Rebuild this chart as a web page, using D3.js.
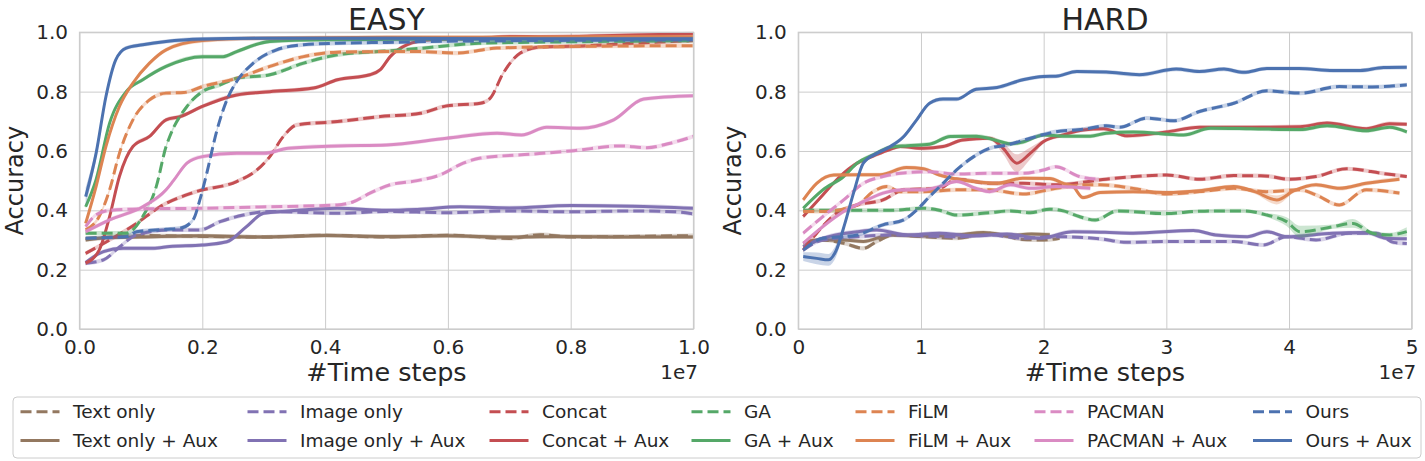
<!DOCTYPE html>
<html>
<head>
<meta charset="utf-8">
<script src="https://cdn.jsdelivr.net/npm/d3@7"></script>
<style>
  body { margin: 0; background: #fff; }
  text { font-family: "DejaVu Sans", sans-serif; fill: #262626; }
</style>
</head>
<body>
<div id="chart"></div>
<script>
// x in units of 1e7 time steps, y = accuracy; optional 3rd value = band half-width
const easyText = [[0.01,0.305],[0.05,0.31],[0.1,0.315],[0.2,0.312],[0.3,0.31],[0.4,0.316],[0.5,0.31],[0.6,0.316],[0.7,0.305],[0.75,0.318],[0.8,0.31],[0.9,0.312],[1.0,0.315]];
const easyTextAux = [[0.01,0.30],[0.05,0.308],[0.1,0.31],[0.2,0.314],[0.3,0.31],[0.4,0.315],[0.5,0.312],[0.6,0.314],[0.7,0.31],[0.8,0.312],[0.9,0.31],[1.0,0.31]];
const easyImage = [[0.01,0.222],[0.039,0.233],[0.066,0.278],[0.093,0.317],[0.147,0.334],[0.196,0.334],[0.229,0.362],[0.267,0.384],[0.31,0.396],[0.42,0.39],[0.5,0.396],[0.6,0.392],[0.7,0.398],[0.8,0.395],[0.9,0.398],[0.97,0.395],[1.0,0.388]];
const easyImageAux = [[0.01,0.224],[0.039,0.261],[0.071,0.272],[0.12,0.272],[0.147,0.278],[0.2,0.283],[0.24,0.294],[0.272,0.345],[0.3,0.39],[0.35,0.399],[0.42,0.407],[0.5,0.40],[0.55,0.403],[0.62,0.412],[0.7,0.408],[0.8,0.416],[0.9,0.414],[1.0,0.407]];
const easyConcat = [[0.01,0.255],[0.049,0.30],[0.093,0.356],[0.131,0.412],[0.19,0.463],[0.256,0.497],[0.289,0.536],[0.31,0.581],[0.332,0.649],[0.354,0.688],[0.42,0.699],[0.49,0.716],[0.555,0.727],[0.598,0.752],[0.653,0.761],[0.669,0.778],[0.69,0.862],[0.718,0.93],[0.75,0.95],[0.82,0.954],[0.9,0.963],[1.0,0.972]];
const easyConcatAux = [[0.01,0.222],[0.032,0.266],[0.049,0.379],[0.065,0.514],[0.087,0.615],[0.114,0.649],[0.141,0.705],[0.164,0.716],[0.2,0.75],[0.256,0.789],[0.31,0.8],[0.381,0.812],[0.42,0.84],[0.473,0.857],[0.49,0.874],[0.506,0.918],[0.533,0.958],[0.571,0.975],[0.65,0.98],[0.707,0.986],[0.75,0.985],[0.85,0.988],[1.0,0.995]];
const easyGA = [[0.01,0.323],[0.076,0.323],[0.103,0.379],[0.125,0.48],[0.141,0.615],[0.147,0.649],[0.175,0.75],[0.2,0.8],[0.229,0.823],[0.256,0.845],[0.31,0.857],[0.365,0.896],[0.42,0.924],[0.5,0.937],[0.55,0.945],[0.65,0.963],[0.8,0.968],[1.0,0.972]];
const easyGAAux = [[0.01,0.412],[0.027,0.503],[0.049,0.694],[0.076,0.8],[0.103,0.84],[0.141,0.885],[0.2,0.918],[0.234,0.918],[0.256,0.935],[0.31,0.969],[0.4,0.975],[0.6,0.977],[0.8,0.978],[1.0,0.978]];
const easyFiLM = [[0.01,0.334],[0.032,0.379],[0.049,0.469],[0.065,0.592],[0.087,0.705],[0.114,0.772],[0.141,0.795],[0.17,0.797],[0.2,0.817],[0.256,0.845],[0.31,0.885],[0.365,0.918],[0.42,0.933],[0.5,0.935],[0.55,0.935],[0.615,0.93],[0.68,0.947],[0.8,0.952],[1.0,0.955]];
const easyFiLMAux = [[0.01,0.356],[0.027,0.48],[0.043,0.615],[0.065,0.75],[0.087,0.829],[0.114,0.896],[0.141,0.941],[0.2,0.972],[0.3,0.98],[0.5,0.983],[0.7,0.983],[0.85,0.985],[1.0,0.985]];
const easyPacman = [[0.01,0.345],[0.027,0.385],[0.05,0.40],[0.1,0.405],[0.2,0.407],[0.31,0.412],[0.42,0.418],[0.446,0.429],[0.473,0.458],[0.506,0.486],[0.55,0.50],[0.587,0.519],[0.625,0.559],[0.653,0.576],[0.734,0.589],[0.805,0.601],[0.881,0.617],[0.924,0.611],[0.96,0.625],[1.0,0.649]];
const easyPacmanAux = [[0.01,0.328],[0.049,0.368],[0.103,0.412],[0.141,0.469],[0.153,0.50],[0.175,0.559],[0.2,0.581],[0.256,0.592],[0.3,0.592],[0.34,0.609],[0.42,0.617],[0.5,0.62],[0.598,0.643],[0.68,0.66],[0.72,0.654],[0.761,0.68],[0.815,0.677],[0.87,0.705],[0.919,0.775],[1.0,0.786]];
const easyOurs = [[0.01,0.306],[0.076,0.311],[0.093,0.328],[0.141,0.336],[0.164,0.34],[0.185,0.368],[0.196,0.435],[0.206,0.514],[0.224,0.671],[0.24,0.772],[0.256,0.834],[0.283,0.896],[0.321,0.941],[0.365,0.958],[0.42,0.963],[0.5,0.966],[0.6,0.97],[0.8,0.973],[1.0,0.975]];
const easyOursAux = [[0.01,0.446,0.03],[0.027,0.592,0.02],[0.043,0.783],[0.059,0.907],[0.076,0.947],[0.103,0.958],[0.141,0.969],[0.2,0.977],[0.3,0.98],[0.5,0.98],[0.7,0.978],[0.9,0.978],[1.0,0.978]];

const hardText = [[0.04,0.277],[0.2,0.30],[0.37,0.289],[0.53,0.272],[0.64,0.295],[0.78,0.317],[1.02,0.311],[1.29,0.306],[1.56,0.323],[1.83,0.302],[2.0,0.30],[2.13,0.306]];
const hardTextAux = [[0.04,0.289],[0.15,0.30],[0.37,0.30],[0.53,0.295],[0.75,0.317],[1.02,0.314],[1.29,0.317],[1.51,0.325],[1.70,0.314],[1.9,0.32],[2.05,0.318]];
const hardImage = [[0.04,0.266],[0.2,0.30],[0.48,0.311],[0.75,0.317],[1.02,0.314],[1.29,0.311],[1.56,0.317],[1.83,0.306],[2.1,0.311],[2.46,0.304],[2.68,0.292],[3.0,0.295],[3.55,0.295],[3.79,0.283],[3.98,0.311],[4.22,0.30],[4.49,0.323],[4.71,0.323],[4.85,0.292],[4.96,0.288]];
const hardImageAux = [[0.04,0.277],[0.2,0.306],[0.48,0.328],[0.64,0.334],[0.89,0.317],[1.15,0.323],[1.42,0.314],[1.70,0.32],[1.97,0.306],[2.24,0.328],[2.5,0.326],[2.73,0.323],[3.22,0.332],[3.4,0.317],[3.66,0.311],[3.82,0.328],[3.98,0.311],[4.36,0.323],[4.63,0.325],[4.79,0.306],[4.96,0.304]];
const hardConcat = [[0.04,0.266],[0.15,0.323],[0.31,0.39],[0.48,0.418],[0.69,0.435],[0.86,0.469],[1.15,0.474],[1.29,0.505],[1.56,0.491],[1.83,0.491],[2.1,0.486],[2.51,0.505],[3.0,0.519],[3.27,0.505],[3.55,0.517],[3.8,0.516],[4.0,0.505],[4.22,0.514],[4.47,0.54],[4.77,0.524],[4.96,0.514]];
const hardConcatAux = [[0.04,0.379],[0.2,0.452],[0.34,0.514],[0.48,0.559],[0.61,0.583],[0.75,0.606],[0.83,0.615],[1.02,0.609],[1.18,0.615],[1.34,0.637],[1.56,0.643],[1.67,0.609,0.02],[1.78,0.559,0.03],[1.89,0.592,0.02],[2.0,0.632],[2.16,0.654],[2.32,0.671],[2.49,0.675],[2.68,0.651],[3.0,0.664],[3.27,0.68],[3.7,0.68],[4.09,0.682],[4.31,0.694],[4.63,0.675],[4.82,0.692],[4.96,0.69]];
const hardGA = [[0.04,0.40],[0.48,0.40],[0.75,0.40],[1.02,0.407],[1.15,0.40],[1.29,0.384],[1.56,0.392],[1.73,0.398],[1.89,0.392],[2.05,0.404],[2.16,0.398],[2.29,0.379],[2.42,0.367],[2.6,0.398],[3.0,0.389],[3.27,0.397],[3.63,0.398],[3.82,0.384],[3.98,0.362,0.015],[4.09,0.328,0.02],[4.36,0.345],[4.52,0.356,0.015],[4.68,0.323],[4.82,0.317],[4.96,0.328,0.015]];
const hardGAAux = [[0.04,0.407],[0.2,0.469],[0.37,0.514],[0.48,0.559],[0.61,0.587],[0.75,0.613],[0.89,0.618],[1.07,0.623],[1.24,0.649],[1.45,0.65],[1.62,0.635],[1.73,0.624],[1.83,0.63],[2.0,0.654],[2.16,0.65],[2.38,0.65],[2.51,0.66],[2.73,0.664],[3.14,0.654],[3.36,0.677],[3.69,0.675],[4.09,0.672],[4.31,0.685],[4.63,0.668],[4.82,0.68],[4.96,0.664]];
const hardFiLM = [[0.04,0.396],[0.2,0.396],[0.48,0.418],[0.61,0.463],[0.72,0.48],[0.83,0.463],[1.02,0.463],[1.29,0.469],[1.56,0.469],[1.83,0.455],[2.1,0.474],[2.38,0.486],[2.46,0.486],[2.73,0.474],[3.0,0.455],[3.27,0.463],[3.55,0.474],[3.82,0.463],[4.09,0.469],[4.22,0.452],[4.41,0.418],[4.63,0.469],[4.9,0.458]];
const hardFiLMAux = [[0.04,0.435],[0.15,0.491],[0.29,0.519],[0.48,0.52],[0.67,0.52],[0.88,0.544],[1.02,0.54],[1.15,0.519],[1.43,0.497],[1.62,0.491],[1.83,0.508],[2.05,0.507],[2.16,0.491],[2.24,0.48],[2.32,0.443],[2.46,0.46],[2.73,0.463],[3.0,0.46],[3.27,0.466],[3.55,0.48],[3.72,0.463],[3.9,0.435,0.015],[4.04,0.466],[4.22,0.486],[4.41,0.474],[4.63,0.491],[4.9,0.505]];
const hardPacman = [[0.04,0.323],[0.2,0.379],[0.37,0.435],[0.53,0.491],[0.69,0.514],[0.88,0.527],[1.07,0.53],[1.29,0.522],[1.56,0.525],[1.83,0.525],[2.0,0.536],[2.1,0.547],[2.29,0.514],[2.45,0.505]];
const hardPacmanAux = [[0.04,0.289],[0.2,0.345],[0.37,0.396],[0.53,0.429],[0.69,0.458],[0.86,0.469],[1.02,0.469],[1.15,0.48],[1.29,0.497],[1.45,0.474],[1.56,0.463],[1.73,0.486],[1.89,0.474],[2.1,0.48],[2.38,0.474]];
const hardOurs = [[0.04,0.266],[0.2,0.306],[0.37,0.311],[0.48,0.317],[0.69,0.351],[0.86,0.368],[0.965,0.401],[1.07,0.446],[1.18,0.491],[1.29,0.536],[1.43,0.581],[1.56,0.609],[1.70,0.62],[1.89,0.643],[2.1,0.665],[2.32,0.673],[2.51,0.685],[2.62,0.68],[2.84,0.711],[3.06,0.702],[3.27,0.733],[3.55,0.761],[3.82,0.803],[4.09,0.795],[4.41,0.817],[4.68,0.816],[4.96,0.823]];
const hardOursAux = [[0.04,0.244,0.015],[0.15,0.238,0.02],[0.245,0.233,0.02],[0.31,0.266,0.02],[0.38,0.356],[0.45,0.458],[0.53,0.559],[0.64,0.592],[0.75,0.615],[0.86,0.649],[0.965,0.705],[1.07,0.761],[1.18,0.775],[1.29,0.775],[1.45,0.808],[1.62,0.814],[1.83,0.84],[2.0,0.851],[2.1,0.852],[2.27,0.868],[2.51,0.866],[2.78,0.857],[3.08,0.876],[3.27,0.868],[3.47,0.876],[3.63,0.865],[3.82,0.878],[4.08,0.878],[4.36,0.871],[4.58,0.871],[4.77,0.881],[4.96,0.882]];

const methods = ['Text only', 'Image only', 'Concat', 'GA', 'FiLM', 'PACMAN', 'Ours'];
const colors = ['#937860', '#8172B3', '#C44E52', '#55A868', '#DD8452', '#DA8BC3', '#4C72B0'];
const easyData = [[easyText, easyTextAux], [easyImage, easyImageAux], [easyConcat, easyConcatAux],
    [easyGA, easyGAAux], [easyFiLM, easyFiLMAux], [easyPacman, easyPacmanAux], [easyOurs, easyOursAux]];
const hardData = [[hardText, hardTextAux], [hardImage, hardImageAux], [hardConcat, hardConcatAux],
    [hardGA, hardGAAux], [hardFiLM, hardFiLMAux], [hardPacman, hardPacmanAux], [hardOurs, hardOursAux]];
const yTicks = [0, 0.2, 0.4, 0.6, 0.8, 1.0];
const easyTicks = [0, 0.2, 0.4, 0.6, 0.8, 1.0];
const hardTicks = [0, 1, 2, 3, 4, 5];

const WIDTH = 1425, HEIGHT = 461;
const TOP = 32.3, BOTTOM = 329;
const GRID = '#cccccc';
const SPREAD = 0.007;

const svg = d3.select('#chart').append('svg').attr('width', WIDTH).attr('height', HEIGHT);

function buildSeries(data) {
    let series = [];
    data.forEach((pair, i) => {
        series.push({ name: methods[i], color: colors[i], dashed: true, values: pair[0] });
        series.push({ name: methods[i] + ' + Aux', color: colors[i], dashed: false, values: pair[1] });
    });
    return series;
}

function panel(opt) {
    const x = d3.scaleLinear().domain(opt.domain).range([opt.left, opt.right]);
    const y = d3.scaleLinear().domain([0, 1]).range([BOTTOM, TOP]);
    const g = svg.append('g');

    // grid + tick labels
    const xAxis = g.append('g').attr('transform', `translate(0,${BOTTOM})`)
        .call(d3.axisBottom(x).tickValues(opt.ticks).tickFormat(opt.fmt)
            .tickSize(-(BOTTOM - TOP)).tickPadding(11));
    const yAxis = g.append('g').attr('transform', `translate(${opt.left},0)`)
        .call(d3.axisLeft(y).tickValues(yTicks).tickFormat(d3.format('.1f'))
            .tickSize(-(opt.right - opt.left)).tickPadding(11.5));
    [xAxis, yAxis].forEach((a) => {
        a.select('.domain').remove();
        a.selectAll('line').attr('stroke', GRID).attr('stroke-width', 1);
        a.selectAll('text').attr('font-size', 20).attr('fill', '#262626')
            .style('font-family', '"DejaVu Sans", sans-serif');
    });

    // lines with std bands
    const plot = g.append('g');
    const line = d3.line().x((d) => x(d[0])).y((d) => y(d[1])).curve(d3.curveMonotoneX);
    const area = d3.area().x((d) => x(d[0]))
        .y0((d) => y(d[1] - (d[2] || SPREAD))).y1((d) => y(d[1] + (d[2] || SPREAD)))
        .curve(d3.curveMonotoneX);

    for (let s of buildSeries(opt.data)) {
        plot.append('path').attr('d', area(s.values))
            .attr('fill', s.color).attr('fill-opacity', 0.3).attr('stroke', 'none');
        plot.append('path').attr('d', line(s.values))
            .attr('fill', 'none').attr('stroke', s.color).attr('stroke-width', 3)
            .attr('stroke-dasharray', s.dashed ? '11,5' : null);
    }

    // frame
    g.append('rect').attr('x', opt.left).attr('y', TOP)
        .attr('width', opt.right - opt.left).attr('height', BOTTOM - TOP)
        .attr('fill', 'none').attr('stroke', GRID).attr('stroke-width', 1.25);

    const cx = (opt.left + opt.right) / 2;
    g.append('text').attr('x', cx).attr('y', 30).attr('text-anchor', 'middle')
        .attr('font-size', 30).text(opt.title);
    g.append('text').attr('x', cx).attr('y', 381).attr('text-anchor', 'middle')
        .attr('font-size', 25.5).text('#Time steps');
    // offset text sits a line below the tick labels
    g.append('text').attr('x', opt.right + 4.5).attr('y', 379).attr('text-anchor', 'end')
        .attr('font-size', 20).text('1e7');
    g.append('text').attr('transform', `translate(${opt.left - 57},${(TOP + BOTTOM) / 2}) rotate(-90)`)
        .attr('text-anchor', 'middle').attr('font-size', 24).text('Accuracy');
}

panel({ title: 'EASY', data: easyData, domain: [0, 1], ticks: easyTicks, fmt: d3.format('.1f'), left: 79.5, right: 693.5 });
panel({ title: 'HARD', data: hardData, domain: [0, 5], ticks: hardTicks, fmt: d3.format('d'), left: 798.3, right: 1411.7 });

// legend, 7 columns filled column by column; label starts
const legendTextX = [73, 300, 542, 744, 908, 1087, 1305.5];
const legend = svg.append('g');
legend.append('rect').attr('x', 13).attr('y', 397).attr('width', 1408).attr('height', 61)
    .attr('rx', 4).attr('fill', '#fff').attr('stroke', GRID).attr('stroke-width', 1);
const rowY = [411.7, 440.5];
methods.forEach((m, i) => {
    const tx = legendTextX[i];
    [true, false].forEach((dashed, r) => {
        legend.append('line').attr('x1', tx - 52.5).attr('x2', tx - 13.5).attr('y1', rowY[r]).attr('y2', rowY[r])
            .attr('stroke', colors[i]).attr('stroke-width', 3)
            .attr('stroke-dasharray', dashed ? '11,5' : null);
        legend.append('text').attr('x', tx).attr('y', rowY[r]).attr('dy', '0.35em')
            .attr('font-size', 18.5).text(dashed ? m : m + ' + Aux');
    });
});
</script>
</body>
</html>
